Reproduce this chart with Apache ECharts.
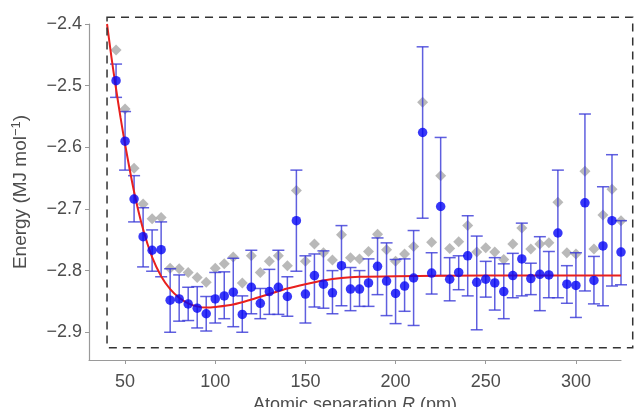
<!DOCTYPE html>
<html>
<head>
<meta charset="utf-8">
<script src="https://cdn.jsdelivr.net/npm/echarts@6/dist/echarts.min.js"></script>
<style>html,body{margin:0;padding:0;background:#fff;overflow:hidden;}#c{width:634px;height:407px;}</style>
</head>
<body>
<div id="c"></div>
<script>
// Atomic separation R (pm)
const sep = [45,50,55,60,65,70,75,80,85,90,95,100,105,110,115,120,125,130,135,140,145,150,155,160,165,170,175,180,185,190,195,200,205,210,215,220,225,230,235,240,245,250,255,260,265,270,275,280,285,290,295,300,305,310,315,320,325];
// Blue points
const energy = [-2.492,-2.590,-2.684,-2.745,-2.767,-2.766,-2.848,-2.846,-2.854,-2.861,-2.870,-2.846,-2.841,-2.835,-2.871,-2.827,-2.853,-2.834,-2.827,-2.842,-2.719,-2.838,-2.808,-2.822,-2.836,-2.792,-2.830,-2.830,-2.820,-2.793,-2.817,-2.837,-2.825,-2.812,-2.576,-2.804,-2.696,-2.814,-2.803,-2.776,-2.819,-2.814,-2.820,-2.834,-2.808,-2.781,-2.813,-2.806,-2.807,-2.739,-2.822,-2.824,-2.690,-2.816,-2.760,-2.719,-2.770];
// Error bar lower ends
const errLow = [-2.519,-2.637,-2.721,-2.794,-2.801,-2.810,-2.900,-2.882,-2.881,-2.893,-2.898,-2.885,-2.878,-2.891,-2.900,-2.870,-2.878,-2.871,-2.871,-2.874,-2.801,-2.885,-2.859,-2.861,-2.870,-2.857,-2.865,-2.858,-2.858,-2.839,-2.873,-2.886,-2.866,-2.889,-2.715,-2.838,-2.808,-2.849,-2.831,-2.841,-2.896,-2.843,-2.864,-2.878,-2.844,-2.841,-2.839,-2.865,-2.844,-2.844,-2.853,-2.876,-2.833,-2.854,-2.857,-2.825,-2.823];
// Error bar upper ends
const errHigh = [-2.465,-2.542,-2.646,-2.698,-2.734,-2.721,-2.797,-2.807,-2.827,-2.826,-2.842,-2.803,-2.802,-2.780,-2.841,-2.767,-2.829,-2.798,-2.767,-2.810,-2.637,-2.776,-2.773,-2.768,-2.800,-2.727,-2.795,-2.800,-2.781,-2.747,-2.755,-2.782,-2.781,-2.735,-2.437,-2.771,-2.584,-2.779,-2.776,-2.711,-2.744,-2.785,-2.779,-2.789,-2.772,-2.723,-2.788,-2.745,-2.769,-2.637,-2.792,-2.771,-2.546,-2.777,-2.664,-2.612,-2.719];
// Grey diamonds
const refEnergy = [-2.442,-2.538,-2.634,-2.692,-2.716,-2.714,-2.796,-2.797,-2.803,-2.811,-2.819,-2.796,-2.789,-2.778,-2.820,-2.776,-2.803,-2.785,-2.776,-2.792,-2.670,-2.785,-2.757,-2.771,-2.783,-2.742,-2.779,-2.781,-2.769,-2.741,-2.766,-2.785,-2.773,-2.761,-2.527,-2.754,-2.646,-2.764,-2.753,-2.727,-2.770,-2.763,-2.770,-2.782,-2.757,-2.731,-2.765,-2.757,-2.755,-2.689,-2.771,-2.773,-2.639,-2.765,-2.710,-2.668,-2.719];
// Fitted curve
const fitX = [40,42.5,45,47.5,50,55,60,65,70,75,80,85,90,95,100,110,120,130,140,150,160,170,180,200,250,325];
const fitY = [-2.400,-2.455,-2.505,-2.552,-2.595,-2.672,-2.733,-2.778,-2.809,-2.830,-2.844,-2.853,-2.858,-2.860,-2.859,-2.855,-2.847,-2.838,-2.829,-2.822,-2.816,-2.812,-2.810,-2.809,-2.808,-2.808];
// Ticks
const xTicks = [50,100,150,200,250,300];
const yTicks = [-2.9,-2.8,-2.7,-2.6,-2.5,-2.4];
// Dashed frame (data coordinates)
const frameX = [40, 331.5];
const frameY = [-2.925, -2.389];

const chart = echarts.init(document.getElementById('c'), null, {renderer:'canvas'});
const FONT = 'Liberation Sans, Arial, Helvetica, sans-serif';
const axisCol = '#9a9a9a';
const txtCol = '#4d4d4d';
const barCol = 'rgba(55,55,215,0.8)';

chart.setOption({
  animation: false,
  backgroundColor: '#fff',
  grid: {left: 89, right: 13, top: 24, bottom: 47, containLabel: false, outerBoundsMode: 'none'},
  xAxis: {
    type: 'value', min: 30, max: 325,
    splitLine: {show: false},
    axisLine: {show: true, lineStyle: {color: axisCol, width: 1.2}},
    axisTick: {show: true, length: 4, lineStyle: {color: axisCol}, customValues: xTicks},
    axisLabel: {color: txtCol, fontSize: 18, fontFamily: FONT, margin: 13, customValues: xTicks},
    name: '{a|Atomic separation }{i|R}{a| (pm)}',
    nameLocation: 'middle', nameGap: 36,
    nameTextStyle: {rich: {a: {fontSize: 18, color: txtCol, fontFamily: FONT}, i: {fontSize: 18, color: txtCol, fontFamily: FONT, fontStyle: 'italic'}}}
  },
  yAxis: {
    type: 'value', min: -2.945, max: -2.4,
    splitLine: {show: false},
    axisLine: {show: true, lineStyle: {color: axisCol, width: 1.2}},
    axisTick: {show: true, length: 4, lineStyle: {color: axisCol}, customValues: yTicks},
    axisLabel: {color: txtCol, fontSize: 18, fontFamily: FONT, margin: 7, customValues: yTicks,
      formatter: v => (v < 0 ? '\u2212' : '') + Math.abs(v).toFixed(1)},
    name: '{a|Energy (MJ mol}{s|\u22121}{a|)}',
    nameLocation: 'middle', nameGap: 57, nameRotate: 90,
    nameTextStyle: {rich: {a: {fontSize: 19, color: txtCol, fontFamily: FONT}, s: {fontSize: 13, color: txtCol, fontFamily: FONT, verticalAlign: 'top', padding: [0,0,9,0]}}}
  },
  series: [
    {type: 'scatter', symbol: 'diamond', symbolSize: 11, z: 1, itemStyle: {color: '#a8a8a8'},
      data: sep.map((x, i) => [x, refEnergy[i]])},
    {type: 'custom', z: 2,
      renderItem: function (params, api) {
        const x = api.value(0);
        const pLo = api.coord([x, api.value(1)]);
        const pHi = api.coord([x, api.value(2)]);
        const hw = 6;
        const st = {stroke: barCol, lineWidth: 1.5};
        return {type: 'group', children: [
          {type: 'line', shape: {x1: pLo[0], y1: pLo[1], x2: pHi[0], y2: pHi[1]}, style: st},
          {type: 'line', shape: {x1: pLo[0]-hw, y1: pLo[1], x2: pLo[0]+hw, y2: pLo[1]}, style: st},
          {type: 'line', shape: {x1: pHi[0]-hw, y1: pHi[1], x2: pHi[0]+hw, y2: pHi[1]}, style: st}
        ]};
      },
      data: sep.map((x, i) => [x, errLow[i], errHigh[i]])},
    {type: 'line', z: 3, smooth: 0.3, showSymbol: false,
      lineStyle: {color: '#e8201e', width: 2},
      data: fitX.map((x, i) => [x, fitY[i]])},
    {type: 'scatter', symbol: 'circle', symbolSize: 9.5, z: 4, itemStyle: {color: '#0505f5'},
      data: sep.map((x, i) => [x, energy[i]])}
  ]
});

const p1 = chart.convertToPixel({gridIndex: 0}, [frameX[0], frameY[1]]);
const p2 = chart.convertToPixel({gridIndex: 0}, [frameX[1], frameY[0]]);
chart.setOption({
  graphic: [{
    type: 'rect', z: 10, silent: true,
    shape: {x: p1[0], y: p1[1], width: p2[0] - p1[0], height: p2[1] - p1[1]},
    style: {fill: null, stroke: '#333', lineWidth: 1.5, lineDash: [8, 6]}
  }]
});
</script>
</body>
</html>
